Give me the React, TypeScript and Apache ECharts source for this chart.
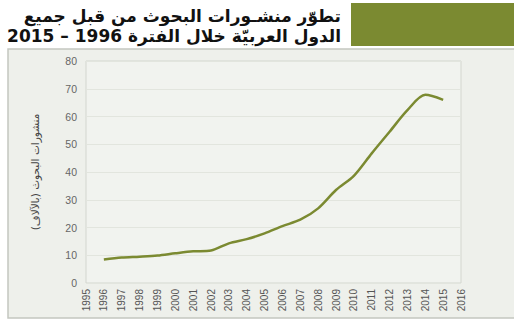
import React, { useEffect, useRef } from "react";
import * as echarts from "echarts";

const years = ["1995","1996","1997","1998","1999","2000","2001","2002","2003","2004","2005","2006","2007","2008","2009","2010","2011","2012","2013","2014","2015","2016"];
const publications = [null, 8.5, 9.2, 9.5, 9.9, 10.7, 11.4, 11.7, 14.3, 15.8, 17.9, 20.5, 22.8, 26.9, 33.5, 38.6, 46.7, 54.5, 62.3, 67.8, 66.0, null];
const titleLine1 = "تطوّر منشـورات البحوث من قبل جميع";
const titleLine2 = "الدول العربيّة خلال الفترة 1996 – 2015";
const yAxisName = "منشورات البحوث (بالآلاف)";

const RLE = "\u202B";
const PDF = "\u202C";

export default function App() {
  const ref = useRef<HTMLDivElement>(null);
  useEffect(() => {
    if (!ref.current) return;
    const chart = echarts.init(ref.current, null, { renderer: "svg" });
    chart.setOption({
      animation: false,
      backgroundColor: "#ffffff",
      graphic: [
        { type: "rect", z: -10, shape: { x: 8, y: 49, width: 510, height: 269 }, style: { fill: "#eef0eb", stroke: "#c4c6c0", lineWidth: 1.5 } },
        { type: "rect", shape: { x: 351, y: 3, width: 163, height: 43 }, style: { fill: "#7b8a31" } },
        { type: "text", x: 341, y: 16, style: { text: RLE + titleLine1 + PDF, fill: "#111", font: "bold 17px 'DejaVu Sans'", textAlign: "right", textVerticalAlign: "middle" } },
        { type: "text", x: 341, y: 36, style: { text: RLE + titleLine2 + PDF, fill: "#111", font: "bold 17px 'DejaVu Sans'", textAlign: "right", textVerticalAlign: "middle" } },
      ],
      grid: { left: 86, right: 53, top: 61, bottom: 42, show: true, borderColor: "#d3d6cf", borderWidth: 1, backgroundColor: "#f1f3ef" },
      xAxis: {
        type: "category",
        data: years,
        boundaryGap: false,
        axisLine: { show: false },
        axisTick: { show: false },
        splitLine: { show: false },
        axisLabel: { rotate: 90, fontSize: 10, color: "#555", fontFamily: "Liberation Sans", margin: 6, interval: 0 },
      },
      yAxis: {
        type: "value",
        min: 0,
        max: 80,
        interval: 10,
        name: RLE + yAxisName + PDF,
        nameLocation: "middle",
        nameRotate: 90,
        nameGap: 46,
        nameTextStyle: { fontSize: 10.5, color: "#444", fontFamily: "DejaVu Sans" },
        axisLine: { show: false },
        axisTick: { show: false },
        splitLine: { lineStyle: { color: "#e2e5de", width: 1 } },
        axisLabel: { fontSize: 10.5, color: "#666", fontFamily: "Liberation Sans", margin: 9 },
      },
      series: [
        {
          type: "line",
          data: publications,
          smooth: 0.3,
          symbol: "none",
          lineStyle: { color: "#7b8a31", width: 2.5 },
        },
      ],
    });
    return () => chart.dispose();
  }, []);
  return <div ref={ref} style={{ position: "fixed", left: 0, top: 0, width: 514, height: 325 }} />;
}
